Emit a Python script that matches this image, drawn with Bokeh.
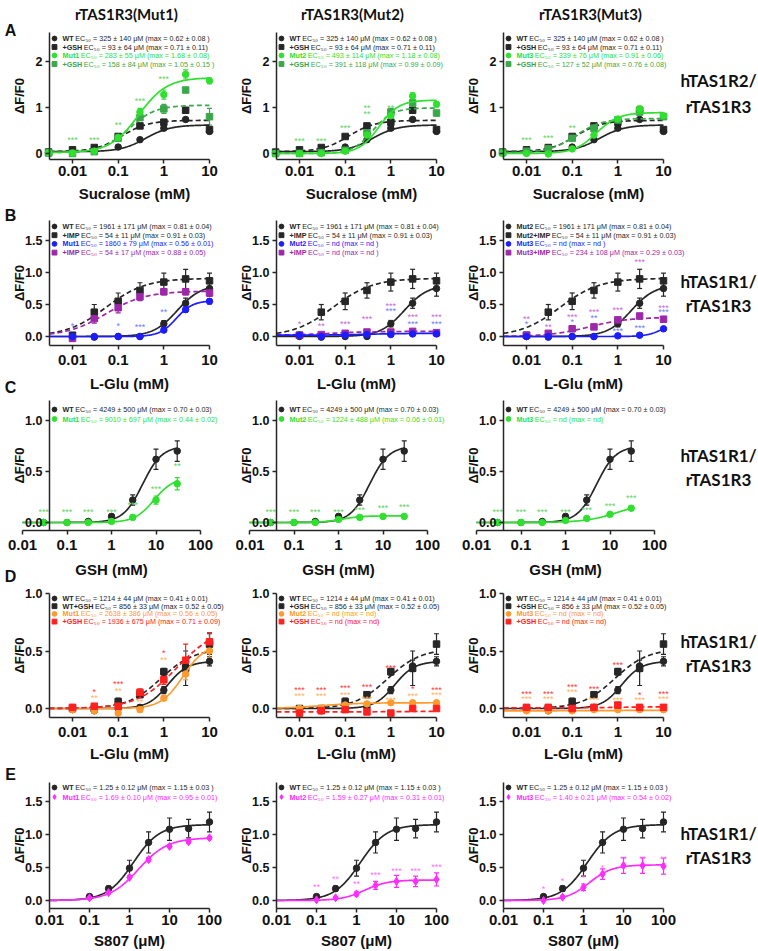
import math
import numpy as np
from bokeh.plotting import figure
from bokeh.layouts import row, column
from bokeh.models import (Whisker, TeeHead, ColumnDataSource, FixedTicker, LogAxis, LinearAxis,
                          CustomJSTickFormatter, NumeralTickFormatter, Range1d)
from bokeh.core.properties import value
from bokeh.embed import file_html
from bokeh.resources import INLINE

# ============================ DATA ============================
COL_TITLES = ["rTAS1R3(Mut1)", "rTAS1R3(Mut2)", "rTAS1R3(Mut3)"]
ROW_LETTERS = ["A", "B", "C", "D", "E"]
ROW_RECEPTOR = [("hTAS1R2/", "rTAS1R3"), ("hTAS1R1/", "rTAS1R3"), ("hTAS1R1/", "rTAS1R3"),
                ("hTAS1R1/", "rTAS1R3"), ("hTAS1R1/", "rTAS1R3")]
X_LABELS = ["Sucralose (mM)", "L-Glu (mM)", "GSH (mM)", "L-Glu (mM)", "S807 (μM)"]
X_TICKS = [[0.01, 0.1, 1, 10], [0.01, 0.1, 1, 10], [0.01, 0.1, 1, 10, 100],
           [0.01, 0.1, 1, 10], [0.01, 0.1, 1, 10, 100]]
Y_TICKS = [[0, 1, 2], [0, 0.5, 1.0, 1.5], [0, 0.5, 1.0], [0, 0.5, 1.0], [0, 0.5, 1.0, 1.5]]
Y_FORMATS = ["0", "0.0", "0.0", "0.0", "0.0"]

# fit parameters: [bottom, top, EC50, Hill]
# ---- Row A : sucralose (mM)
A_conc = [0.003, 0.01, 0.03, 0.1, 0.3, 1, 3, 10]
A_wt = [0.02, 0.03, 0.05, 0.14, 0.30, 0.55, 0.74, 0.48]
A_wt_err = [0.01, 0.02, 0.02, 0.02, 0.03, 0.04, 0.04, 0.05]
A_wt_fit = [0.04, 0.62, 0.40, 1.6]
A_wtgsh = [0.03, 0.08, 0.13, 0.37, 0.60, 0.68, 0.94, 0.52]
A_wtgsh_err = [0.01, 0.03, 0.03, 0.04, 0.05, 0.06, 0.04, 0.05]
A_wtgsh_fit = [0.04, 0.72, 0.12, 1.5]
A1_mut = [0.02, 0.01, 0.05, 0.35, 0.90, 1.28, 1.72, 1.58]
A1_mut_err = [0.01, 0.02, 0.02, 0.04, 0.08, 0.10, 0.10, 0.06]
A1_mut_fit = [0.02, 1.65, 0.28, 1.4]
A1_gsh = [0.01, 0.00, 0.04, 0.33, 0.78, 0.97, 1.38, 0.80]
A1_gsh_err = [0.01, 0.01, 0.02, 0.03, 0.06, 0.10, 0.05, 0.18]
A1_gsh_fit = [0.02, 1.05, 0.17, 1.5]
A2_mut = [0.00, 0.00, 0.00, 0.05, 0.40, 0.82, 1.25, 1.07]
A2_mut_err = [0.01, 0.01, 0.01, 0.02, 0.05, 0.07, 0.07, 0.05]
A2_mut_fit = [0.0, 1.16, 0.55, 2.0]
A2_gsh = [0.00, 0.00, 0.02, 0.07, 0.45, 0.90, 1.10, 0.88]
A2_gsh_err = [0.01, 0.01, 0.01, 0.02, 0.06, 0.08, 0.12, 0.06]
A2_gsh_fit = [0.0, 0.99, 0.40, 2.0]
A3_mut = [0.00, 0.00, -0.01, 0.10, 0.40, 0.75, 0.97, 0.82]
A3_mut_err = [0.01, 0.01, 0.01, 0.02, 0.04, 0.05, 0.06, 0.04]
A3_mut_fit = [0.0, 0.89, 0.34, 1.8]
A3_gsh = [0.02, 0.05, 0.10, 0.33, 0.55, 0.73, 0.90, 0.80]
A3_gsh_err = [0.01, 0.02, 0.02, 0.03, 0.04, 0.05, 0.05, 0.04]
A3_gsh_fit = [0.02, 0.76, 0.12, 1.5]
A1_star_x = [0.01, 0.03, 0.1, 0.3, 1]
A1_star_y = [0.29, 0.29, 0.62, 1.15, 1.63]
A1_star_t = ["***", "***", "**", "***", "***"]
A2_star_x = [0.01, 0.03, 0.1, 0.3, 0.3, 1]
A2_star_y = [0.28, 0.28, 0.56, 0.99, 0.86, 1.00]
A2_star_t = ["***", "***", "***", "**", "**", "**"]
A3_star_x = [0.01, 0.03, 0.1]
A3_star_y = [0.30, 0.33, 0.56]
A3_star_t = ["***", "***", "**"]

# ---- Row B : L-Glu (mM) +/- IMP
B_conc = [0.01, 0.03, 0.1, 0.3, 1, 3, 10]
B_wt = [0.00, -0.01, 0.00, 0.00, 0.20, 0.52, 0.75]
B_wt_err = [0.02, 0.02, 0.02, 0.02, 0.05, 0.08, 0.12]
B_wt_fit = [0.0, 0.81, 1.96, 1.66]
B_wtimp = [0.02, 0.38, 0.55, 0.72, 0.85, 0.90, 0.87]
B_wtimp_err = [0.03, 0.12, 0.13, 0.12, 0.14, 0.15, 0.12]
B_wtimp_fit = [0.0, 0.91, 0.054, 1.0]
B1_mut = [0.00, 0.00, 0.00, 0.00, 0.10, 0.42, 0.55]
B1_mut_err = [0.01, 0.01, 0.01, 0.01, 0.02, 0.04, 0.04]
B1_mut_fit = [0.0, 0.56, 1.86, 2.4]
B1_imp = [-0.03, 0.28, 0.45, 0.62, 0.70, 0.70, 0.68]
B1_imp_err = [0.02, 0.07, 0.08, 0.06, 0.05, 0.05, 0.05]
B1_imp_fit = [0.0, 0.71, 0.054, 1.0]
B2_mut = [0.02, 0.00, 0.02, 0.03, 0.03, 0.04, 0.04]
B2_mut_err = [0.01, 0.01, 0.01, 0.01, 0.01, 0.01, 0.01]
B2_mut_fit = [0.02, 0.05, 0.3, 1.0]
B2_imp = [0.02, 0.03, 0.05, 0.07, 0.07, 0.08, 0.06]
B2_imp_err = [0.01, 0.01, 0.01, 0.01, 0.01, 0.01, 0.01]
B2_imp_fit = [0.02, 0.08, 0.05, 1.0]
B3_mut = [0.00, 0.00, 0.00, 0.00, 0.01, 0.02, 0.12]
B3_mut_err = [0.01, 0.01, 0.01, 0.01, 0.01, 0.01, 0.02]
B3_mut_fit = [0.0, 0.25, 10.0, 2.5]
B3_imp = [0.02, 0.05, 0.12, 0.15, 0.26, 0.32, 0.27]
B3_imp_err = [0.01, 0.01, 0.02, 0.02, 0.03, 0.04, 0.03]
B3_imp_fit = [0.0, 0.30, 0.234, 1.0]
B1_star_x = [0.01, 0.1, 0.3, 1]
B1_star_y = [0.17, 0.17, 0.15, 0.38]
B1_star_t = ["*", "*", "***", "**"]
B2_star_px = [0.01, 0.03, 0.1, 0.3, 1, 3, 10]
B2_star_py = [0.20, 0.17, 0.20, 0.27, 0.47, 0.30, 0.30]
B2_star_pt = ["*", "**", "***", "***", "***", "***", "***"]
B2_star_bx = [1, 3, 10]
B2_star_by = [0.40, 0.20, 0.20]
B2_star_bt = ["***", "***", "***"]
B3_star_px = [0.01, 0.03, 0.1, 0.3, 1, 3, 10]
B3_star_py = [0.27, 0.15, 0.30, 0.38, 0.41, 1.16, 0.45]
B3_star_pt = ["**", "**", "***", "***", "***", "***", "***"]
B3_star_bx = [0.01, 0.1, 0.3, 1, 3, 10]
B3_star_by = [0.19, 0.22, 0.29, 0.09, 0.14, 0.38]
B3_star_bt = ["*", "*", "**", "***", "***", "***"]

# ---- Row C : GSH (mM)
C_conc = [0.03, 0.1, 0.3, 1, 3, 10, 30]
C_wt = [0.00, 0.00, 0.01, 0.06, 0.22, 0.62, 0.70]
C_wt_err = [0.01, 0.01, 0.01, 0.02, 0.05, 0.10, 0.10]
C_wt_fit = [0.0, 0.75, 5.0, 2.0]
C1_mut = [0.00, 0.00, 0.00, 0.01, 0.05, 0.22, 0.38]
C1_mut_err = [0.01, 0.01, 0.01, 0.01, 0.02, 0.04, 0.06]
C1_mut_fit = [0.0, 0.44, 9.0, 2.0]
C2_mut = [0.00, 0.00, 0.00, 0.03, 0.05, 0.06, 0.06]
C2_mut_err = [0.01, 0.01, 0.01, 0.01, 0.01, 0.01, 0.01]
C2_mut_fit = [0.0, 0.065, 1.2, 2.0]
C3_mut = [0.00, 0.00, 0.00, 0.02, 0.04, 0.08, 0.14]
C3_mut_err = [0.01, 0.01, 0.01, 0.01, 0.01, 0.01, 0.02]
C3_mut_fit = [0.0, 0.20, 15.0, 1.2]
C1_star_y = [0.10, 0.10, 0.10, 0.10, 0.17, 0.33, 0.55]
C1_star_t = ["***", "***", "***", "***", "***", "***", "**"]
C2_star_y = [0.10, 0.10, 0.10, 0.10, 0.12, 0.14, 0.15]
C2_star_t = ["***", "***", "***", "***", "***", "***", "***"]
C3_star_y = [0.10, 0.10, 0.10, 0.10, 0.12, 0.16, 0.24]
C3_star_t = ["***", "***", "***", "***", "***", "***", "***"]

# ---- Row D : L-Glu (mM) +/- GSH
D_conc = [0.01, 0.03, 0.1, 0.3, 1, 3, 10]
D_wt = [-0.01, -0.02, 0.00, 0.01, 0.16, 0.37, 0.41]
D_wt_err = [0.01, 0.02, 0.02, 0.02, 0.03, 0.05, 0.04]
D_wt_fit = [0.0, 0.41, 1.214, 2.0]
D_wtgsh = [0.00, 0.00, 0.06, 0.12, 0.32, 0.35, 0.56]
D_wtgsh_err = [0.01, 0.02, 0.03, 0.02, 0.03, 0.15, 0.09]
D_wtgsh_fit = [0.0, 0.52, 0.856, 1.2]
D1_mut = [-0.01, -0.02, -0.04, -0.01, 0.09, 0.30, 0.50]
D1_mut_err = [0.01, 0.02, 0.02, 0.02, 0.02, 0.05, 0.06]
D1_mut_fit = [0.0, 0.56, 2.638, 1.8]
D1_gsh = [0.01, 0.02, 0.02, 0.14, 0.25, 0.42, 0.58]
D1_gsh_err = [0.01, 0.02, 0.02, 0.03, 0.04, 0.14, 0.08]
D1_gsh_fit = [0.0, 0.71, 1.936, 1.0]
D2_mut = [0.00, 0.00, 0.03, 0.04, 0.05, 0.05, 0.05]
D2_mut_err = [0.01, 0.01, 0.01, 0.01, 0.01, 0.01, 0.01]
D2_mut_fit = [0.0, 0.05, 0.03, 1.0]
D2_gsh = [-0.04, -0.02, -0.01, -0.03, -0.04, 0.00, 0.00]
D2_gsh_err = [0.01, 0.01, 0.01, 0.01, 0.01, 0.01, 0.01]
D2_gsh_fit = [-0.03, -0.025, 1.0, 1.0]
D3_mut = [-0.02, -0.02, -0.02, -0.01, -0.01, -0.01, -0.01]
D3_mut_err = [0.01, 0.01, 0.01, 0.01, 0.01, 0.01, 0.01]
D3_mut_fit = [-0.02, -0.015, 1.0, 1.0]
D3_gsh = [0.01, 0.01, 0.00, 0.01, 0.03, 0.01, 0.01]
D3_gsh_err = [0.01, 0.01, 0.01, 0.01, 0.02, 0.01, 0.01]
D3_gsh_fit = [0.005, 0.015, 1.0, 1.0]
D1_star_rx = [0.03, 0.1, 1]
D1_star_ry = [0.145, 0.21, 0.48]
D1_star_rt = ["*", "***", "*"]
D1_star_ox = [0.03, 0.1, 0.3, 1]
D1_star_oy = [0.09, 0.15, 0.06, 0.42]
D1_star_ot = ["**", "**", "**", "**"]
D2_star_ry = [0.16, 0.16, 0.18, 0.19, 0.35, 0.17, 0.16]
D2_star_rt = ["***", "***", "***", "***", "***", "*", "***"]
D2_star_oy = [0.11, 0.11, 0.12, 0.08, 0.07, 0.11, 0.12]
D2_star_ot = ["***", "***", "***", "***", "***", "***", "***"]
D3_star_ry = [0.13, 0.13, 0.19, 0.17, 0.38, 0.12, 0.13]
D3_star_rt = ["***", "***", "***", "***", "***", "*", "***"]
D3_star_oy = [0.08, 0.08, 0.14, 0.07, 0.07, 0.07, 0.08]
D3_star_ot = ["***", "***", "***", "***", "***", "***", "***"]

# ---- Row E : S807 (uM)
E_conc = [0.1, 0.3, 1, 3, 10, 30, 100]
E_wt = [0.06, 0.18, 0.49, 0.88, 1.08, 1.09, 1.19]
E_wt_err = [0.01, 0.04, 0.12, 0.16, 0.17, 0.14, 0.15]
E_wt_fit = [0.0, 1.15, 1.25, 1.33]
E1_mut = [0.04, 0.12, 0.35, 0.62, 0.82, 0.89, 0.95]
E1_mut_err = [0.01, 0.02, 0.02, 0.03, 0.02, 0.02, 0.02]
E1_mut_fit = [0.0, 0.95, 1.69, 1.2]
E2_mut = [0.01, 0.04, 0.10, 0.23, 0.29, 0.29, 0.32]
E2_mut_err = [0.01, 0.02, 0.03, 0.06, 0.09, 0.08, 0.10]
E2_mut_fit = [0.0, 0.31, 1.59, 1.5]
E3_mut = [0.00, 0.05, 0.20, 0.40, 0.53, 0.53, 0.52]
E3_mut_err = [0.01, 0.02, 0.05, 0.08, 0.12, 0.12, 0.12]
E3_mut_fit = [0.0, 0.54, 1.40, 1.5]
E2_star_y = [0.20, 0.33, 0.25, 0.39, 0.45, 0.45, 0.51]
E2_star_t = ["**", "**", "**", "***", "***", "***", "***"]
E3_star_y = [0.18, 0.29, 0.34, 0.49, 0.63, 0.63, 0.63]
E3_star_t = ["*", "*", "*", "*", "**", "**", "**"]

# ============================ STYLE / GEOMETRY (page pixels) ============================
FONT = "Liberation Sans"
HFONT = "Lato"
INK = "#111111"
BLACK = "#262626"
GREEN = "#2fe02f"
DGREEN = "#3aa84a"
GREEN_S = "#62d262"
BLUE = "#1c1cff"
BLUE_S = "#6b7bff"
PURPLE = "#9c27a8"
PURPLE_S = "#c76ad2"
ORANGE = "#ff9a2e"
ORANGE_S = "#ffb25c"
RED = "#ff2020"
RED_S = "#ff3a3a"
MAGENTA = "#ff2cff"
MAGENTA_S = "#ff70ff"

COL_BOX = [(0, 235), (235, 225), (460, 298)]              # page x, width
ROW_BOX = [(0, 202), (202, 196), (398, 188), (586, 178), (764, 187)]  # page y, height
AXIS_X = [49, 276, 503]                                   # y-axis position per column
# per row: offset of x=0.01 from y-axis, px per decade, x-axis start / end offsets
ROW_X001 = [23, 23, -27, 23, 0]
ROW_PPD = [45.67, 45.67, 44.5, 45.67, 40.0]
ROW_XAX = [(0, 160), (0, 160), (-27, 151), (0, 160), (0, 160)]
# per row: page y of value 0, px per unit, y-axis top, y-axis bottom (= x-axis)
ROW_ZERO = [153, 336, 522, 708, 900]
ROW_PPU = [46, 64, 102, 115, 66]
ROW_YAX = [(32, 159), (220, 345), (400, 530), (593, 717), (782, 908)]
ROW_TICK_STANDOFF = [2, 5, 5, 5, 2]
ROW_XLABEL_Y = [193, 383, 569, 753, 940]
ROW_XLABEL_DX = [5, 0, 0, 0, 0]
COL_TITLE_POS = [(126, 13), (352, 13), (590, 13)]
LETTER_POS = [(10, 30, 0), (10, 215, 1), (10, 387, 1), (10, 576, 2), (10, 774, 4)]
RECEPTOR_X = 718
RECEPTOR_Y = [(80, 106), (281, 305), (455, 479), (641, 665), (833, 857)]
LEGEND_Y = [(38, 8.5), (226, 8.7), (409, 9.5), (598, 7.7), (787, 9.5)]
LEGEND_FS = 7.2

BOLD_W = {'W': 944, 'T': 611, '+': 584, 'G': 778, 'S': 667, 'H': 722, 'M': 833,
          'u': 611, 't': 333, 'I': 278, 'P': 667, ' ': 278}


def bold_width(s, fs):
    return sum(BOLD_W.get(ch, 556) for ch in s) * fs / 1000.0


def hill(xs, f):
    b, t, ec, h = f
    return b + (t - b) / (1.0 + (ec / xs) ** h)


class Panel:
    def __init__(self, r, c):
        self.r, self.c = r, c
        fx, fw = COL_BOX[c]
        fy, fh = ROW_BOX[r]
        self.fx, self.fy, self.fw, self.fh = fx, fy, fw, fh
        self.x001 = AXIS_X[c] + ROW_X001[r]
        self.ppd = ROW_PPD[r]
        self.zero = ROW_ZERO[r]
        self.ppu = ROW_PPU[r]
        x0, _ = self.to_data(fx, 0)
        x1, _ = self.to_data(fx + fw, 0)
        _, y1 = self.to_data(0, fy)
        _, y0 = self.to_data(0, fy + fh)
        p = figure(width=fw, height=fh, x_axis_type="log", x_axis_location=None,
                   y_axis_location=None, x_range=Range1d(x0, x1), y_range=Range1d(y0, y1),
                   min_border=0, min_border_left=0, min_border_right=0, min_border_top=0,
                   min_border_bottom=0, output_backend="svg", toolbar_location=None, title=None)
        p.outline_line_color = None
        p.grid.visible = False
        p.background_fill_color = "white"
        p.border_fill_color = "white"
        self.p = p
        # axes positioned in page geometry
        ax_l, ax_r = ROW_XAX[r]
        yt, yb = ROW_YAX[r]
        xa_l, ya_b = self.to_data(AXIS_X[c] + ax_l, yb)
        xa_r, ya_t = self.to_data(AXIS_X[c] + ax_r, yt)
        y_axis_x, _ = self.to_data(AXIS_X[c], yb)
        xaxis = LogAxis(fixed_location=ya_b, bounds=(xa_l, xa_r),
                        ticker=FixedTicker(ticks=X_TICKS[r], minor_ticks=[]),
                        formatter=CustomJSTickFormatter(code="return tick.toString();"))
        yaxis = LinearAxis(fixed_location=y_axis_x, bounds=(ya_b, ya_t),
                           ticker=FixedTicker(ticks=Y_TICKS[r], minor_ticks=[]),
                           formatter=NumeralTickFormatter(format=Y_FORMATS[r]))
        for ax in (xaxis, yaxis):
            ax.axis_line_color = BLACK
            ax.axis_line_width = 1.5
            ax.major_tick_line_color = BLACK
            ax.major_tick_line_width = 1.5
            ax.major_tick_in = 0
            ax.major_tick_out = 4
            ax.minor_tick_line_color = None
            ax.major_label_text_font = FONT
            ax.major_label_text_font_style = "bold"
            ax.major_label_text_color = INK
        xaxis.major_label_text_font_size = "15px"
        yaxis.major_label_text_font_size = "12.5px"
        xaxis.major_label_standoff = ROW_TICK_STANDOFF[r]
        yaxis.major_label_standoff = 3
        p.add_layout(xaxis, "below")
        p.add_layout(yaxis, "left")
        # axis titles
        self.text(AXIS_X[c] + (ax_l + ax_r) / 2 + ROW_XLABEL_DX[r], ROW_XLABEL_Y[r],
                  X_LABELS[r], size="15px", align="center")
        self.text(AXIS_X[c] - 30, (yt + yb) / 2, "ΔF/F0", size="13px", align="center",
                  angle=math.pi / 2)

    def to_data(self, px, py):
        x = 10 ** (-2 + (px - self.x001) / self.ppd)
        y = (self.zero - py) / self.ppu
        return x, y

    def text(self, px, py, text, size="12px", color=INK, style="bold", font=FONT,
             align="left", angle=0.0):
        x, y = self.to_data(px, py)
        self.p.text(x=[x], y=[y], text=[text], text_font=value(font), text_font_size=size,
                    text_font_style=style, text_color=color, text_align=align,
                    text_baseline="middle", angle=angle)

    def series(self, conc, y, err, fit, color, marker, dashed):
        p = self.p
        x = np.array(conc, dtype=float)
        y = np.array(y, dtype=float)
        e = np.array(err, dtype=float)
        x_start, _ = self.to_data(AXIS_X[self.c] + ROW_XAX[self.r][0], 0)
        xs = np.logspace(math.log10(x_start), math.log10(x.max()), 240)
        p.line(xs, hill(xs, fit), line_color=color, line_width=1.7,
               line_dash="5 3" if dashed else "solid")
        src = ColumnDataSource(dict(x=x, up=y + e, lo=y - e))
        p.add_layout(Whisker(source=src, base="x", upper="up", lower="lo", dimension="height",
                             line_color=color, line_width=1.2,
                             upper_head=TeeHead(size=5, line_color=color, line_width=1.2),
                             lower_head=TeeHead(size=5, line_color=color, line_width=1.2)))
        p.scatter(x, y, marker=marker, size=6.5 if marker != "diamond" else 8,
                  fill_color=color, line_color=color)

    def stars(self, xs, ys, ts, color):
        src = ColumnDataSource(dict(x=xs, y=ys, t=ts))
        self.p.text(x="x", y="y", text="t", source=src, text_font=value(FONT),
                    text_font_size="9px", text_color=color, text_align="center",
                    text_baseline="middle")

    def legend(self, lines):
        y0, dy = LEGEND_Y[self.r]
        fs = LEGEND_FS
        ax = AXIS_X[self.c]
        for i, (name, rest, color, marker) in enumerate(lines):
            py = y0 + i * dy
            mx, my = self.to_data(ax + 5, py)
            self.p.scatter([mx], [my], marker=marker, size=4.8, fill_color=color, line_color=color)
            self.text(ax + 13, py, name, size="%.1fpx" % fs, color=color, style="bold")
            wx = bold_width(name, fs) + 1.5
            self.text(ax + 13 + wx, py, rest, size="%.1fpx" % fs, color=color, style="normal")


panels = [[Panel(r, c) for c in range(3)] for r in range(5)]

# ---------------- Row A ----------------
A_leg_wt = [("WT", "EC₅₀ = 325 ± 140 μM (max =  0.62 ± 0.08 )", BLACK, "circle"),
            ("+GSH", "EC₅₀ = 93 ± 64 μM (max = 0.71 ± 0.11)", BLACK, "square")]
A_leg_mut = [[("Mut1", "EC₅₀ = 283 ± 55 μM (max =  1.68 ± 0.08)", GREEN, "circle"),
              ("+GSH", "EC₅₀ = 158 ± 84 μM (max =  1.05 ± 0.15 )", DGREEN, "square")],
             [("Mut2", "EC₅₀ = 493 ± 114 μM (max =  1.18 ± 0.08)", GREEN, "circle"),
              ("+GSH", "EC₅₀ = 391 ± 118 μM (max = 0.99 ± 0.09)", DGREEN, "square")],
             [("Mut3", "EC₅₀ = 339 ± 76 μM (max =  0.91 ± 0.06)", GREEN, "circle"),
              ("+GSH", "EC₅₀ = 127 ± 52 μM (max =  0.76 ± 0.08)", DGREEN, "square")]]
A_mut_sets = [(A1_mut, A1_mut_err, A1_mut_fit, A1_gsh, A1_gsh_err, A1_gsh_fit),
              (A2_mut, A2_mut_err, A2_mut_fit, A2_gsh, A2_gsh_err, A2_gsh_fit),
              (A3_mut, A3_mut_err, A3_mut_fit, A3_gsh, A3_gsh_err, A3_gsh_fit)]
A_star_sets = [(A1_star_x, A1_star_y, A1_star_t), (A2_star_x, A2_star_y, A2_star_t),
               (A3_star_x, A3_star_y, A3_star_t)]
for c in range(3):
    P = panels[0][c]
    m, me, mf, g, ge, gf = A_mut_sets[c]
    P.series(A_conc, A_wt, A_wt_err, A_wt_fit, BLACK, "circle", False)
    P.series(A_conc, A_wtgsh, A_wtgsh_err, A_wtgsh_fit, BLACK, "square", True)
    P.series(A_conc, g, ge, gf, DGREEN, "square", True)
    P.series(A_conc, m, me, mf, GREEN, "circle", False)
    P.stars(*A_star_sets[c], GREEN_S)
    P.legend(A_leg_wt + A_leg_mut[c])

# ---------------- Row B ----------------
B_leg_wt = [("WT", "EC₅₀ =  1961 ± 171 μM (max = 0.81 ± 0.04)", BLACK, "circle"),
            ("+IMP", "EC₅₀ = 54 ± 11 μM (max = 0.91 ± 0.03)", BLACK, "square")]
B_legs = [B_leg_wt + [("Mut1", "EC₅₀ = 1860 ± 79 μM (max = 0.56 ± 0.01)", BLUE, "circle"),
                      ("+IMP", "EC₅₀ = 54 ± 17 μM (max =  0.88 ± 0.05)", PURPLE, "square")],
          B_leg_wt + [("Mut2", "EC₅₀ = nd (max =  nd )", BLUE, "circle"),
                      ("+IMP", "EC₅₀ = nd (max =  nd )", PURPLE, "square")],
          [("Mut2", "EC₅₀ = 1961 ± 171 μM (max = 0.81 ± 0.04)", BLACK, "circle"),
           ("Mut2+IMP", "EC₅₀ = 54 ± 11 μM (max = 0.91 ± 0.03)", BLACK, "square"),
           ("Mut3", "EC₅₀ = nd (max =  nd )", BLUE, "circle"),
           ("Mut3+IMP", "EC₅₀ = 234 ± 108 μM (max = 0.29 ± 0.03)", PURPLE, "square")]]
B_mut_sets = [(B1_mut, B1_mut_err, B1_mut_fit, B1_imp, B1_imp_err, B1_imp_fit),
              (B2_mut, B2_mut_err, B2_mut_fit, B2_imp, B2_imp_err, B2_imp_fit),
              (B3_mut, B3_mut_err, B3_mut_fit, B3_imp, B3_imp_err, B3_imp_fit)]
for c in range(3):
    P = panels[1][c]
    m, me, mf, g, ge, gf = B_mut_sets[c]
    P.series(B_conc, B_wt, B_wt_err, B_wt_fit, BLACK, "circle", False)
    P.series(B_conc, B_wtimp, B_wtimp_err, B_wtimp_fit, BLACK, "square", True)
    P.series(B_conc, g, ge, gf, PURPLE, "square", True)
    P.series(B_conc, m, me, mf, BLUE, "circle", False)
    P.legend(B_legs[c])
panels[1][0].stars(B1_star_x, B1_star_y, B1_star_t, BLUE_S)
panels[1][1].stars(B2_star_px, B2_star_py, B2_star_pt, PURPLE_S)
panels[1][1].stars(B2_star_bx, B2_star_by, B2_star_bt, BLUE_S)
panels[1][2].stars(B3_star_px, B3_star_py, B3_star_pt, PURPLE_S)
panels[1][2].stars(B3_star_bx, B3_star_by, B3_star_bt, BLUE_S)

# ---------------- Row C ----------------
C_legs = [[("WT", "EC₅₀ = 4249 ± 500 μM (max = 0.70 ± 0.03)", BLACK, "circle"),
           ("Mut1", "EC₅₀ = 9010 ± 697 μM (max = 0.44 ± 0.02)", GREEN, "circle")],
          [("WT", "EC₅₀ = 4249 ± 500 μM (max = 0.70 ± 0.03)", BLACK, "circle"),
           ("Mut2", "EC₅₀ = 1224 ± 488 μM (max = 0.06 ± 0.01)", GREEN, "circle")],
          [("WT", "EC₅₀ = 4249 ± 500 μM (max = 0.70 ± 0.03)", BLACK, "circle"),
           ("Mut3", "EC₅₀ = nd (max = nd)", GREEN, "circle")]]
C_mut_sets = [(C1_mut, C1_mut_err, C1_mut_fit, C1_star_y, C1_star_t),
              (C2_mut, C2_mut_err, C2_mut_fit, C2_star_y, C2_star_t),
              (C3_mut, C3_mut_err, C3_mut_fit, C3_star_y, C3_star_t)]
for c in range(3):
    P = panels[2][c]
    m, me, mf, sy, st = C_mut_sets[c]
    P.series(C_conc, C_wt, C_wt_err, C_wt_fit, BLACK, "circle", False)
    P.series(C_conc, m, me, mf, GREEN, "circle", False)
    P.stars(C_conc, sy, st, GREEN_S)
    P.legend(C_legs[c])

# ---------------- Row D ----------------
D_legs = [[("WT", "EC₅₀ = 1214 ± 44 μM (max = 0.41 ± 0.01)", BLACK, "circle"),
           ("WT+GSH", "EC₅₀ = 856 ± 33 μM (max = 0.52 ± 0.05)", BLACK, "square"),
           ("Mut1", "EC₅₀ = 2638 ± 386 μM (max = 0.56 ± 0.05)", ORANGE, "circle"),
           ("+GSH", "EC₅₀ = 1936 ± 675 μM (max =  0.71 ± 0.09)", RED, "square")],
          [("WT", "EC₅₀ = 1214 ± 44 μM (max = 0.41 ± 0.01)", BLACK, "circle"),
           ("+GSH", "EC₅₀ = 856 ± 33 μM (max = 0.52 ± 0.05)", BLACK, "square"),
           ("Mut2", "EC₅₀ = nd (max = nd)", ORANGE, "circle"),
           ("+GSH", "EC₅₀ = nd (max = nd)", RED, "square")],
          [("WT", "EC₅₀ = 1214 ± 44 μM (max = 0.41 ± 0.01)", BLACK, "circle"),
           ("+GSH", "EC₅₀ = 856 ± 33 μM (max = 0.52 ± 0.05)", BLACK, "square"),
           ("Mut3", "EC₅₀ = nd (max = nd)", ORANGE, "circle"),
           ("+GSH", "EC₅₀ = nd (max = nd)", RED, "square")]]
D_mut_sets = [(D1_mut, D1_mut_err, D1_mut_fit, D1_gsh, D1_gsh_err, D1_gsh_fit),
              (D2_mut, D2_mut_err, D2_mut_fit, D2_gsh, D2_gsh_err, D2_gsh_fit),
              (D3_mut, D3_mut_err, D3_mut_fit, D3_gsh, D3_gsh_err, D3_gsh_fit)]
for c in range(3):
    P = panels[3][c]
    m, me, mf, g, ge, gf = D_mut_sets[c]
    P.series(D_conc, D_wt, D_wt_err, D_wt_fit, BLACK, "circle", False)
    P.series(D_conc, D_wtgsh, D_wtgsh_err, D_wtgsh_fit, BLACK, "square", True)
    P.series(D_conc, m, me, mf, ORANGE, "circle", False)
    P.series(D_conc, g, ge, gf, RED, "square", True)
    P.legend(D_legs[c])
panels[3][0].stars(D1_star_rx, D1_star_ry, D1_star_rt, RED_S)
panels[3][0].stars(D1_star_ox, D1_star_oy, D1_star_ot, ORANGE_S)
panels[3][1].stars(D_conc, D2_star_ry, D2_star_rt, RED_S)
panels[3][1].stars(D_conc, D2_star_oy, D2_star_ot, ORANGE_S)
panels[3][2].stars(D_conc, D3_star_ry, D3_star_rt, RED_S)
panels[3][2].stars(D_conc, D3_star_oy, D3_star_ot, ORANGE_S)

# ---------------- Row E ----------------
E_legs = [[("WT", "EC₅₀ =  1.25 ± 0.12 μM (max = 1.15 ± 0.03 )", BLACK, "circle"),
           ("Mut1", "EC₅₀ = 1.69 ± 0.10 μM (max = 0.95 ± 0.01)", MAGENTA, "diamond")],
          [("WT", "EC₅₀ = 1.25 ± 0.12 μM (max = 1.15 ± 0.03 )", BLACK, "circle"),
           ("Mut2", "EC₅₀ = 1.59 ± 0.27 μM (max = 0.31 ± 0.01)", MAGENTA, "diamond")],
          [("WT", "EC₅₀ = 1.25 ± 0.12 μM (max = 1.15 ± 0.03 )", BLACK, "circle"),
           ("Mut3", "EC₅₀ = 1.40 ± 0.21 μM (max = 0.54 ± 0.02)", MAGENTA, "diamond")]]
E_mut_sets = [(E1_mut, E1_mut_err, E1_mut_fit), (E2_mut, E2_mut_err, E2_mut_fit),
              (E3_mut, E3_mut_err, E3_mut_fit)]
for c in range(3):
    P = panels[4][c]
    m, me, mf = E_mut_sets[c]
    P.series(E_conc, E_wt, E_wt_err, E_wt_fit, BLACK, "circle", False)
    P.series(E_conc, m, me, mf, MAGENTA, "diamond", False)
    P.legend(E_legs[c])
panels[4][1].stars(E_conc, E2_star_y, E2_star_t, MAGENTA_S)
panels[4][2].stars(E_conc, E3_star_y, E3_star_t, MAGENTA_S)

# ---------------- decorations ----------------
for c in range(3):
    tx, ty = COL_TITLE_POS[c]
    panels[0][c].text(tx, ty, COL_TITLES[c], size="15px", font=HFONT, align="center")
for i, (px_, py_, r) in enumerate(LETTER_POS):
    panels[r][0].text(px_, py_, ROW_LETTERS[i], size="16px", align="center")
for r in range(5):
    y1, y2 = RECEPTOR_Y[r]
    panels[r][2].text(RECEPTOR_X, y1, ROW_RECEPTOR[r][0], size="17px", font=HFONT,
                      align="center")
    panels[r][2].text(RECEPTOR_X, y2, ROW_RECEPTOR[r][1], size="17px", font=HFONT,
                      align="center")

layout = column(*[row(*[panels[r][c].p for c in range(3)]) for r in range(5)])
open("out.html", "w").write(file_html(layout, INLINE))
